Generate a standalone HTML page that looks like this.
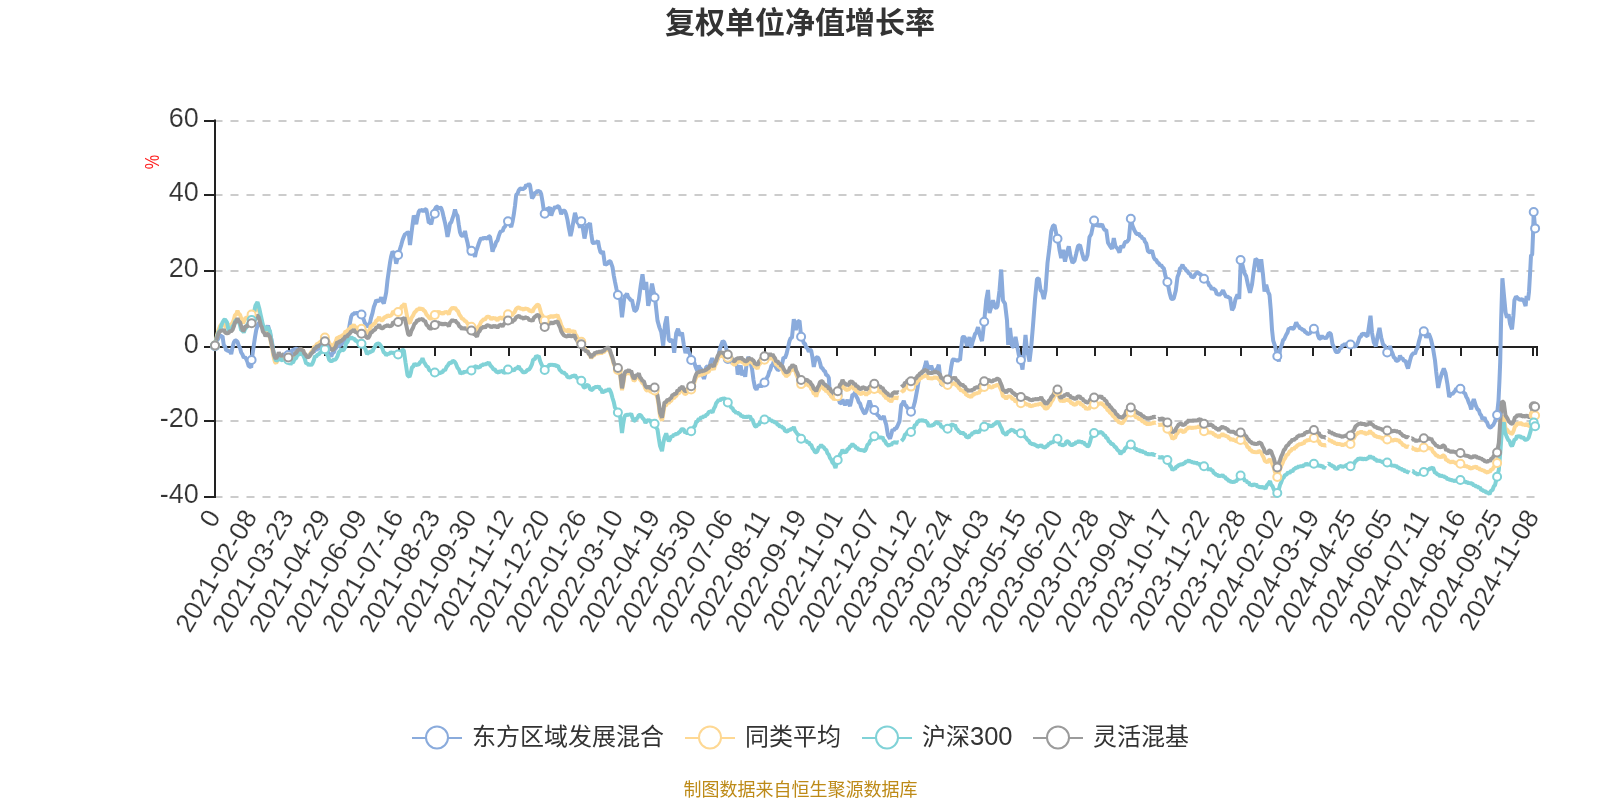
<!DOCTYPE html>
<html lang="zh-CN">
<head>
<meta charset="utf-8">
<title>复权单位净值增长率</title>
<style>
html,body{margin:0;padding:0;background:#fff;}
body{width:1600px;height:800px;overflow:hidden;}
svg{display:block;will-change:transform;}
text{font-family:"Liberation Sans", "Noto Sans CJK SC", sans-serif;fill:#333;}
.title{font-size:30px;font-weight:bold;text-anchor:middle;}
.grid line{stroke:#ccc;stroke-width:2;stroke-dasharray:8 8;}
.axis line{stroke:#222;stroke-width:2;}
.ylab text{font-size:27px;text-anchor:end;stroke:#fff;stroke-width:.15;}
.xlab text{font-size:26.5px;text-anchor:end;dominant-baseline:central;stroke:#fff;stroke-width:.15;}
.yname{font-size:20px;fill:#f22;text-anchor:middle;}
.series polyline{fill:none;stroke-width:4;stroke-linejoin:bevel;}
.series circle{fill:#fff;stroke-width:2;}
.legend text{font-size:24px;}
.legend line,.legend circle{stroke-width:2;fill:#fff;}
.footer{font-size:18px;fill:#bd8a17;text-anchor:middle;}
.s-blue{stroke:#8aabdc}.s-yellow{stroke:#fed893}.s-cyan{stroke:#80d2d7}.s-grey{stroke:#9b9b9b}
</style>
</head>
<body>
<svg width="1600" height="800" viewBox="0 0 1600 800">
<text class="title" x="800" y="33">复权单位净值增长率</text>
<g class="grid">
<line x1="214.5" y1="121" x2="1537" y2="121"/>
<line x1="214.5" y1="195" x2="1537" y2="195"/>
<line x1="214.5" y1="271" x2="1537" y2="271"/>
<line x1="214.5" y1="421" x2="1537" y2="421"/>
<line x1="214.5" y1="497" x2="1537" y2="497"/>
</g>
<g class="axis axis-y">
<line x1="215" y1="119.5" x2="215" y2="498"/>
<line x1="204" y1="121" x2="215" y2="121"/>
<line x1="204" y1="195" x2="215" y2="195"/>
<line x1="204" y1="271" x2="215" y2="271"/>
<line x1="204" y1="347" x2="215" y2="347"/>
<line x1="204" y1="421" x2="215" y2="421"/>
<line x1="204" y1="497" x2="215" y2="497"/>
</g>
<g class="ylab">
<text x="198.8" y="126.6">60</text>
<text x="198.8" y="200.6">40</text>
<text x="198.8" y="276.6">20</text>
<text x="198.8" y="352.6">0</text>
<text x="198.8" y="426.6">-20</text>
<text x="198.8" y="502.6">-40</text>
</g>
<text class="yname" transform="translate(159,162) rotate(-90)" textLength="14.4" lengthAdjust="spacingAndGlyphs">%</text>
<g class="axis axis-x">
<line x1="215" y1="347" x2="1538" y2="347"/>
<line x1="215" y1="347" x2="215" y2="356"/>
<line x1="251" y1="347" x2="251" y2="356"/>
<line x1="289" y1="347" x2="289" y2="356"/>
<line x1="325" y1="347" x2="325" y2="356"/>
<line x1="361" y1="347" x2="361" y2="356"/>
<line x1="399" y1="347" x2="399" y2="356"/>
<line x1="435" y1="347" x2="435" y2="356"/>
<line x1="471" y1="347" x2="471" y2="356"/>
<line x1="509" y1="347" x2="509" y2="356"/>
<line x1="545" y1="347" x2="545" y2="356"/>
<line x1="581" y1="347" x2="581" y2="356"/>
<line x1="617" y1="347" x2="617" y2="356"/>
<line x1="655" y1="347" x2="655" y2="356"/>
<line x1="691" y1="347" x2="691" y2="356"/>
<line x1="727" y1="347" x2="727" y2="356"/>
<line x1="765" y1="347" x2="765" y2="356"/>
<line x1="801" y1="347" x2="801" y2="356"/>
<line x1="837" y1="347" x2="837" y2="356"/>
<line x1="875" y1="347" x2="875" y2="356"/>
<line x1="911" y1="347" x2="911" y2="356"/>
<line x1="947" y1="347" x2="947" y2="356"/>
<line x1="985" y1="347" x2="985" y2="356"/>
<line x1="1021" y1="347" x2="1021" y2="356"/>
<line x1="1057" y1="347" x2="1057" y2="356"/>
<line x1="1095" y1="347" x2="1095" y2="356"/>
<line x1="1131" y1="347" x2="1131" y2="356"/>
<line x1="1167" y1="347" x2="1167" y2="356"/>
<line x1="1205" y1="347" x2="1205" y2="356"/>
<line x1="1241" y1="347" x2="1241" y2="356"/>
<line x1="1277" y1="347" x2="1277" y2="356"/>
<line x1="1313" y1="347" x2="1313" y2="356"/>
<line x1="1351" y1="347" x2="1351" y2="356"/>
<line x1="1387" y1="347" x2="1387" y2="356"/>
<line x1="1423" y1="347" x2="1423" y2="356"/>
<line x1="1461" y1="347" x2="1461" y2="356"/>
<line x1="1497" y1="347" x2="1497" y2="356"/>
<line x1="1533" y1="347" x2="1533" y2="356"/>
<line x1="1537" y1="347" x2="1537" y2="356"/>
</g>
<g class="xlab">
<text transform="translate(213.5,512) rotate(-60)">0</text>
<text transform="translate(250.1,512) rotate(-60)">2021-02-08</text>
<text transform="translate(286.8,512) rotate(-60)">2021-03-23</text>
<text transform="translate(323.4,512) rotate(-60)">2021-04-29</text>
<text transform="translate(360.0,512) rotate(-60)">2021-06-09</text>
<text transform="translate(396.6,512) rotate(-60)">2021-07-16</text>
<text transform="translate(433.3,512) rotate(-60)">2021-08-23</text>
<text transform="translate(469.9,512) rotate(-60)">2021-09-30</text>
<text transform="translate(506.5,512) rotate(-60)">2021-11-12</text>
<text transform="translate(543.2,512) rotate(-60)">2021-12-20</text>
<text transform="translate(579.8,512) rotate(-60)">2022-01-26</text>
<text transform="translate(616.4,512) rotate(-60)">2022-03-10</text>
<text transform="translate(653.1,512) rotate(-60)">2022-04-19</text>
<text transform="translate(689.7,512) rotate(-60)">2022-05-30</text>
<text transform="translate(726.3,512) rotate(-60)">2022-07-06</text>
<text transform="translate(763.0,512) rotate(-60)">2022-08-11</text>
<text transform="translate(799.6,512) rotate(-60)">2022-09-19</text>
<text transform="translate(836.2,512) rotate(-60)">2022-11-01</text>
<text transform="translate(872.8,512) rotate(-60)">2022-12-07</text>
<text transform="translate(909.5,512) rotate(-60)">2023-01-12</text>
<text transform="translate(946.1,512) rotate(-60)">2023-02-24</text>
<text transform="translate(982.7,512) rotate(-60)">2023-04-03</text>
<text transform="translate(1019.4,512) rotate(-60)">2023-05-15</text>
<text transform="translate(1056.0,512) rotate(-60)">2023-06-20</text>
<text transform="translate(1092.6,512) rotate(-60)">2023-07-28</text>
<text transform="translate(1129.2,512) rotate(-60)">2023-09-04</text>
<text transform="translate(1165.9,512) rotate(-60)">2023-10-17</text>
<text transform="translate(1202.5,512) rotate(-60)">2023-11-22</text>
<text transform="translate(1239.1,512) rotate(-60)">2023-12-28</text>
<text transform="translate(1275.8,512) rotate(-60)">2024-02-02</text>
<text transform="translate(1312.4,512) rotate(-60)">2024-03-19</text>
<text transform="translate(1349.0,512) rotate(-60)">2024-04-25</text>
<text transform="translate(1385.7,512) rotate(-60)">2024-06-05</text>
<text transform="translate(1422.3,512) rotate(-60)">2024-07-11</text>
<text transform="translate(1458.9,512) rotate(-60)">2024-08-16</text>
<text transform="translate(1495.6,512) rotate(-60)">2024-09-25</text>
<text transform="translate(1532.2,512) rotate(-60)">2024-11-08</text>
</g>
<g class="series">
<g class="s-blue">
<polyline points="215.0,346.2 217.0,339.9 218.2,338.9 219.5,335.0 221.0,336.5 222.5,335.9 223.8,345.3 225.0,346.5 226.2,350.5 227.5,350.1 228.8,351.3 230.0,351.3 231.2,354.0 232.5,347.5 233.8,342.5 235.0,340.4 236.2,340.5 237.5,341.9 238.8,345.6 240.0,348.0 241.2,352.5 242.5,354.5 243.8,357.9 245.0,356.9 246.2,359.0 247.5,362.1 248.8,366.5 250.0,366.4 251.2,367.6 251.8,359.7 253.8,345.3 255.0,337.1 256.2,330.2 257.5,325.9 258.8,322.8 260.0,323.1 261.2,325.5 262.5,325.7 264.0,328.4 265.5,328.3 266.8,328.1 268.0,325.6 270.0,333.1 272.0,342.4 273.8,355.2 275.0,355.2 276.2,358.0 277.5,355.8 278.8,357.5 280.0,355.7 281.2,357.5 282.5,355.9 283.8,357.8 285.0,356.4 286.2,357.5 287.5,354.8 288.8,355.4 290.0,352.8 291.2,352.3 292.5,349.5 293.8,350.4 295.0,348.6 296.2,349.1 297.5,348.5 298.8,351.4 300.0,351.0 301.2,353.3 302.5,352.9 303.8,355.5 305.0,354.5 306.2,356.6 307.5,355.9 308.8,355.9 310.0,354.1 311.2,354.2 312.5,351.2 313.8,352.2 315.0,349.7 316.2,350.2 317.5,348.3 318.8,349.4 320.0,346.4 321.2,347.2 322.5,344.4 323.8,347.3 325.0,347.4 326.2,350.6 327.5,350.9 328.8,354.0 330.0,354.3 331.2,356.6 332.5,353.1 333.8,352.5 335.0,348.9 336.2,348.0 337.5,345.5 338.8,346.9 340.0,344.5 341.2,345.1 342.5,342.4 343.8,342.8 345.0,339.5 346.2,338.1 347.5,333.2 348.8,330.1 350.0,322.6 351.2,316.6 352.5,314.2 353.8,314.0 355.0,312.4 356.2,313.9 357.5,312.1 358.9,314.0 360.3,313.4 361.8,314.6 363.8,319.9 365.0,323.4 366.2,324.4 367.5,326.8 368.8,325.7 370.0,322.6 371.2,317.3 372.5,313.2 373.8,307.1 375.0,304.1 376.2,300.0 377.5,301.1 378.8,300.8 380.0,300.0 381.2,297.4 382.5,301.2 383.8,303.5 385.0,298.4 386.2,292.4 387.5,280.3 388.8,270.9 390.0,262.7 391.2,256.2 392.5,251.5 393.8,253.0 395.0,256.6 396.2,263.7 398.2,255.3 399.8,249.5 401.2,245.1 402.5,240.3 403.8,236.8 405.0,234.1 406.2,233.9 407.5,232.2 408.8,233.0 410.0,245.0 411.2,235.3 412.5,224.9 413.8,215.5 415.0,219.0 416.2,224.2 417.5,216.9 418.8,211.6 420.0,210.0 421.2,210.6 422.5,209.5 423.8,211.6 425.0,209.4 426.2,209.2 427.5,215.2 428.8,222.9 430.0,222.4 431.2,224.2 432.5,218.4 433.8,213.9 435.0,209.2 436.2,206.8 437.5,206.8 438.8,209.3 440.0,207.4 441.2,208.1 442.5,211.8 443.8,217.8 445.0,222.7 446.2,228.8 447.5,236.9 448.8,230.9 450.0,223.2 451.2,222.5 452.5,218.4 453.8,214.7 455.0,209.4 456.2,213.9 457.5,215.8 458.8,224.9 460.0,232.3 461.2,235.1 462.5,236.1 463.8,234.8 465.0,231.0 466.2,237.2 467.5,242.4 468.8,249.4 470.0,254.8 471.8,251.1 473.4,252.8 475.0,256.8 476.2,251.1 477.5,247.5 478.8,243.4 480.0,240.2 481.2,237.9 482.5,239.4 483.8,237.3 485.0,238.6 486.2,237.3 487.5,239.3 488.8,236.3 490.0,236.5 491.2,243.0 492.5,251.7 493.8,247.6 495.0,245.6 496.2,241.8 497.5,240.5 498.8,235.9 500.0,232.6 501.2,230.7 502.5,231.4 503.8,227.7 505.0,226.6 506.2,223.4 507.5,223.7 508.8,221.0 510.0,224.8 511.2,226.9 512.5,221.8 513.8,214.4 515.0,205.7 516.2,194.9 517.5,193.8 518.8,190.3 520.0,188.8 521.2,188.2 522.5,189.9 523.8,188.2 525.0,188.0 526.2,184.8 527.5,186.0 528.8,183.9 530.0,185.2 532.0,198.4 533.5,196.3 535.0,192.4 536.2,192.8 537.5,190.5 538.8,191.6 540.0,191.3 541.2,194.0 542.5,201.5 543.8,210.5 545.0,213.2 546.2,211.7 547.5,208.3 548.8,208.7 550.0,207.4 551.2,215.6 552.5,211.6 553.8,208.9 555.0,206.8 556.2,207.8 557.5,206.3 558.8,206.4 560.0,209.6 561.2,214.2 562.5,211.3 563.8,210.6 565.0,211.1 566.2,214.4 567.5,219.9 568.8,227.7 570.5,236.1 571.8,230.5 573.0,223.7 575.0,212.9 576.2,217.2 577.5,222.5 578.8,223.7 580.0,227.7 582.0,220.9 583.2,230.5 584.5,238.5 585.8,232.2 587.0,224.4 588.5,225.6 590.0,223.1 591.2,233.5 592.5,242.4 593.8,243.5 595.0,241.9 596.5,242.8 598.0,240.8 599.2,247.5 600.5,252.3 601.8,252.8 603.0,251.1 605.0,265.2 606.2,263.9 607.5,263.9 609.0,261.2 610.5,261.5 612.5,267.1 613.8,275.6 615.0,281.9 616.5,289.2 618.0,294.8 620.0,297.7 622.0,317.3 623.2,307.6 624.5,295.7 625.8,295.7 627.0,293.5 628.2,297.2 629.5,298.4 630.8,300.3 632.0,299.8 633.2,305.9 634.5,311.1 635.8,310.5 637.0,308.4 638.8,300.0 640.8,285.0 642.5,274.2 644.5,289.8 646.2,281.8 648.2,305.9 650.0,298.1 652.0,283.6 653.5,291.2 655.0,297.0 655.8,305.1 657.5,320.6 659.5,327.6 661.2,332.0 663.2,345.6 665.0,324.5 666.8,316.5 668.8,339.9 670.5,341.6 672.5,339.4 674.2,352.7 676.2,333.2 678.0,328.8 680.0,335.7 682.0,332.5 683.8,344.8 685.5,353.1 687.5,347.5 688.6,351.7 689.7,353.5 691.7,360.5 693.0,360.1 694.2,362.4 695.7,367.2 697.2,370.6 698.7,365.5 699.9,368.5 701.0,368.8 702.5,375.0 704.0,378.9 705.2,374.0 706.2,367.1 707.7,366.4 709.2,368.4 710.7,361.8 712.2,358.2 713.7,362.5 715.0,360.8 716.2,361.2 717.5,359.6 719.0,352.8 720.1,348.2 721.2,345.0 722.7,341.0 724.2,342.1 725.7,346.4 727.2,352.7 728.0,358.4 729.5,361.0 731.0,361.2 732.2,363.2 733.5,362.3 734.7,363.8 735.9,364.0 737.0,366.3 737.7,374.6 739.2,369.3 740.7,365.6 742.2,375.5 743.7,370.3 745.2,376.8 746.7,362.7 748.2,357.1 749.4,358.8 750.5,362.6 752.0,368.4 753.5,380.1 755.0,387.6 756.5,389.7 757.6,386.9 758.7,385.5 759.9,385.0 761.0,386.8 762.1,385.3 763.2,386.0 764.7,381.9 765.9,381.0 767.0,377.5 768.1,375.7 769.2,371.8 770.4,369.6 771.5,365.5 772.6,365.1 773.7,361.7 775.2,365.8 776.7,368.4 777.9,370.3 779.0,369.6 780.5,367.7 782.0,364.4 783.5,357.4 785.0,358.0 786.5,354.0 788.0,347.6 789.5,341.0 790.6,338.3 791.7,337.8 792.0,337.4 793.8,319.2 795.8,330.0 797.5,321.9 799.5,320.7 801.2,337.2 802.5,338.9 803.8,343.1 805.0,343.7 806.2,347.6 807.5,348.3 808.8,351.8 810.0,349.6 811.2,350.5 812.5,357.6 813.8,366.9 815.0,361.1 816.2,357.7 817.5,357.0 818.8,359.0 820.0,362.8 821.2,367.7 822.5,368.2 823.8,370.6 825.0,371.2 826.2,375.1 827.5,375.3 828.8,377.8 830.0,394.9 831.2,395.1 832.5,393.6 833.8,396.7 835.0,397.5 836.2,396.9 837.5,394.7 838.8,399.7 840.0,403.3 841.2,402.8 842.5,399.5 843.8,403.1 845.0,404.8 846.2,403.4 847.5,399.8 848.8,403.7 850.0,406.1 851.2,401.2 852.5,394.5 853.8,394.9 855.0,391.9 856.2,396.2 857.5,398.4 858.8,402.4 860.0,403.3 861.2,407.4 862.5,409.8 863.8,412.6 865.0,413.7 866.2,411.3 867.5,407.4 869.5,400.5 871.2,405.9 872.5,408.8 873.8,407.7 875.0,410.6 876.2,412.4 877.5,415.3 878.8,415.9 880.0,418.2 881.2,418.4 882.5,418.3 883.8,415.9 885.0,420.9 886.2,424.7 888.0,435.3 890.0,438.6 891.2,434.9 892.5,429.5 893.8,430.4 895.0,428.4 896.2,428.5 897.5,426.0 899.5,421.4 901.2,405.0 902.5,403.8 903.8,400.9 905.0,405.0 906.2,405.7 907.5,408.4 908.8,408.1 910.0,411.1 911.2,411.2 912.5,409.8 913.8,405.8 915.0,401.4 916.2,394.8 917.5,387.9 918.8,379.6 920.0,377.4 921.2,373.5 922.5,372.3 923.8,369.7 925.0,366.1 926.2,361.0 927.5,365.7 928.8,368.4 930.0,368.6 931.2,365.7 932.5,369.8 933.8,370.9 935.0,371.7 936.2,369.6 937.5,368.5 938.8,364.6 940.0,375.5 941.2,384.6 942.5,384.7 943.8,381.9 945.0,384.2 946.2,383.2 947.5,381.9 948.8,376.8 950.0,375.4 951.2,367.0 952.5,360.2 953.8,358.9 955.0,360.6 956.2,359.7 957.5,361.3 958.8,359.5 960.0,360.3 961.2,348.2 962.5,337.5 963.8,336.6 965.0,338.0 967.0,346.0 968.2,342.3 969.5,337.1 971.2,347.5 972.5,342.0 973.8,338.1 975.0,334.0 976.2,332.8 978.0,327.1 980.0,335.4 982.0,341.1 983.1,331.9 984.2,321.2 986.2,300.2 988.0,290.0 989.5,313.0 991.2,307.2 993.0,300.2 995.0,307.2 996.2,308.0 997.5,306.1 999.5,290.4 1001.2,269.5 1003.0,300.5 1005.0,303.6 1007.0,320.4 1008.2,344.8 1010.0,327.9 1012.0,346.1 1013.8,346.8 1015.5,336.9 1017.0,345.2 1018.8,354.9 1020.8,360.6 1022.5,369.5 1023.8,355.5 1025.5,335.0 1027.0,350.6 1028.2,355.0 1029.5,361.5 1031.2,347.2 1033.0,325.5 1035.0,299.5 1037.0,278.9 1038.8,278.3 1040.5,290.1 1042.0,291.9 1043.8,299.0 1045.5,290.7 1047.5,263.0 1049.5,247.1 1051.2,231.4 1053.0,225.9 1054.5,225.1 1056.2,233.7 1058.0,239.2 1059.5,249.8 1061.2,258.0 1063.0,249.8 1065.0,261.7 1067.0,252.0 1068.8,246.4 1070.5,256.2 1072.5,262.8 1074.5,260.9 1076.2,253.8 1078.0,246.1 1080.0,245.0 1081.8,252.1 1083.8,259.3 1085.8,259.9 1087.5,255.0 1089.5,237.0 1091.2,234.3 1093.0,225.6 1094.5,220.9 1096.2,226.0 1098.0,224.3 1100.0,226.2 1102.0,224.2 1103.8,228.7 1105.0,230.2 1106.2,229.7 1108.0,242.7 1110.0,246.1 1112.0,248.9 1113.8,238.2 1115.5,246.6 1117.5,248.4 1119.5,252.6 1121.2,245.8 1123.0,247.7 1125.0,242.1 1127.0,241.8 1128.8,239.4 1130.8,218.8 1132.5,225.7 1134.5,230.6 1136.2,233.5 1137.5,234.5 1138.8,233.4 1140.0,236.2 1141.2,236.0 1142.5,238.7 1143.8,238.3 1145.0,241.8 1146.2,243.2 1148.0,251.3 1150.0,252.4 1152.0,250.4 1153.8,257.5 1155.0,259.5 1156.2,259.9 1157.5,262.7 1158.8,263.2 1160.0,265.6 1161.2,265.0 1162.5,267.4 1163.8,268.2 1165.5,276.3 1167.5,281.8 1169.5,292.6 1171.2,298.7 1172.5,299.2 1173.8,298.3 1175.8,290.5 1177.5,277.1 1178.8,273.8 1180.0,268.3 1181.2,267.7 1182.5,264.6 1183.8,268.1 1185.0,268.3 1186.2,270.7 1187.5,271.2 1188.8,273.7 1190.0,273.4 1191.2,276.4 1192.5,277.1 1193.8,277.2 1195.0,274.7 1197.0,272.5 1198.2,272.4 1199.5,274.0 1200.8,274.4 1202.0,276.8 1203.1,276.7 1204.2,279.2 1205.5,278.9 1206.8,281.7 1208.0,282.1 1209.2,285.5 1210.5,286.2 1211.8,289.4 1213.0,288.2 1214.2,289.3 1215.5,290.1 1216.8,294.3 1218.0,293.9 1219.2,295.1 1221.2,293.2 1223.0,290.3 1225.0,294.8 1226.2,296.9 1227.5,296.2 1228.8,297.8 1230.0,297.2 1232.0,310.1 1233.8,307.2 1235.5,299.2 1237.5,294.4 1239.2,298.8 1240.8,259.7 1242.5,265.1 1244.5,273.2 1246.2,276.3 1248.0,285.0 1250.0,292.7 1252.0,284.5 1253.8,270.2 1255.5,258.7 1257.5,260.5 1259.5,272.0 1261.2,259.3 1263.0,274.8 1264.5,291.5 1266.2,284.8 1268.0,291.6 1269.5,294.8 1270.8,310.2 1272.0,329.5 1273.2,340.6 1275.0,345.9 1276.2,351.6 1277.5,355.8 1278.8,361.5 1280.0,349.4 1282.0,344.2 1283.1,340.1 1284.2,339.2 1286.2,334.7 1287.5,332.6 1288.8,328.2 1290.0,328.8 1291.2,327.4 1292.5,328.9 1293.8,328.4 1295.0,325.9 1296.2,322.3 1297.5,325.3 1298.8,326.2 1300.0,328.6 1301.2,328.3 1302.5,330.1 1303.8,329.8 1305.0,332.0 1306.2,332.3 1307.5,334.2 1308.8,333.4 1310.0,333.4 1311.2,331.2 1312.8,331.2 1314.2,328.5 1315.6,330.7 1317.0,331.2 1318.1,335.8 1319.2,338.4 1320.5,338.7 1321.8,335.6 1323.1,338.1 1324.5,337.0 1325.8,338.7 1327.0,336.9 1328.8,333.0 1330.8,333.7 1332.5,344.1 1334.5,348.4 1335.8,351.9 1337.0,352.0 1338.5,351.7 1340.0,348.3 1341.2,348.3 1342.5,345.0 1343.8,345.4 1345.0,343.8 1346.2,345.0 1347.5,343.1 1349.1,345.0 1350.8,344.4 1352.2,346.0 1353.8,345.8 1355.4,346.6 1357.0,344.4 1358.2,341.6 1359.5,337.2 1360.8,336.7 1362.0,333.7 1363.5,334.3 1365.0,333.4 1366.2,335.7 1367.5,336.2 1369.5,322.7 1370.5,315.8 1372.0,332.8 1373.8,342.4 1375.8,346.3 1377.5,336.9 1379.5,327.9 1381.2,337.4 1383.0,344.3 1385.0,346.2 1386.2,349.8 1387.5,351.9 1388.8,350.0 1390.0,346.1 1391.2,350.7 1392.5,353.4 1393.8,357.4 1395.0,358.2 1396.2,360.8 1397.5,360.8 1398.8,359.7 1400.0,355.6 1401.2,358.6 1402.5,358.3 1404.0,361.1 1405.5,360.6 1406.8,365.4 1408.0,368.6 1410.0,360.5 1411.2,356.2 1412.5,354.1 1413.8,352.9 1415.0,354.0 1416.2,349.9 1417.5,348.0 1418.8,341.9 1420.0,337.5 1422.0,330.7 1423.1,332.1 1424.2,331.1 1426.2,337.7 1427.5,334.6 1428.8,333.8 1430.0,336.5 1431.2,340.2 1433.0,348.2 1435.0,360.5 1436.2,371.9 1438.2,387.9 1440.0,379.6 1442.0,372.9 1443.8,368.4 1445.5,372.9 1447.5,384.5 1449.2,396.9 1451.2,393.5 1452.5,394.1 1453.8,392.3 1455.0,391.3 1456.2,388.4 1457.5,389.1 1458.8,387.1 1460.8,389.4 1462.2,390.0 1463.8,392.9 1465.0,393.1 1466.2,396.7 1467.5,398.8 1468.8,402.7 1470.0,405.1 1471.2,409.4 1472.5,403.0 1473.8,399.2 1475.8,405.7 1477.5,409.4 1478.8,410.1 1480.0,414.0 1481.2,415.4 1482.5,419.3 1484.5,417.3 1485.8,421.1 1487.0,422.2 1488.2,425.7 1489.5,427.2 1490.8,427.4 1492.0,426.0 1493.2,425.2 1494.5,422.5 1495.8,419.1 1497.0,414.8 1498.5,400.6 1499.5,379.6 1500.2,362.2 1501.0,324.4 1502.4,278.2 1504.0,295.7 1505.6,312.5 1507.0,317.6 1508.6,314.3 1510.0,323.5 1512.0,329.3 1513.4,315.5 1514.4,300.3 1516.0,296.4 1518.0,298.5 1520.0,299.9 1522.0,299.1 1524.0,301.4 1525.6,306.1 1526.6,296.0 1528.0,300.2 1529.0,291.7 1530.0,274.6 1531.0,255.7 1532.2,254.5 1533.0,235.5 1533.7,212.1 1535.1,228.4"/>
</g>
<g class="s-yellow">
<polyline points="215.0,345.5 216.2,338.5 217.5,333.5 218.8,329.2 220.0,326.1 221.2,324.4 222.5,325.9 223.8,323.9 225.4,326.7 227.0,327.3 228.5,327.1 230.0,324.4 231.2,324.5 232.5,322.9 233.8,319.7 235.0,314.9 236.2,314.5 237.5,310.7 238.8,313.9 240.0,314.5 241.5,319.4 243.0,323.2 244.2,321.1 245.5,317.8 247.1,317.9 248.8,316.3 250.2,316.6 251.8,314.2 253.4,313.7 255.0,311.0 257.0,306.0 258.8,309.5 260.8,318.7 261.9,322.1 263.0,327.1 264.2,329.3 265.5,333.4 266.8,331.9 268.0,333.3 270.0,337.8 272.0,348.0 274.0,358.7 275.1,362.3 276.2,363.2 277.5,360.7 278.8,355.9 280.0,358.6 281.2,359.1 282.5,358.9 283.8,356.1 285.0,358.1 286.2,357.9 287.5,359.6 288.8,358.4 290.2,358.5 291.8,355.8 293.4,356.4 295.0,354.0 296.5,353.3 298.0,350.2 299.2,351.0 300.5,348.7 301.8,350.4 303.0,350.0 304.2,353.2 305.5,354.5 306.8,356.5 308.0,356.4 309.6,355.4 311.2,352.0 312.8,350.5 314.2,346.4 315.6,346.5 317.0,343.7 318.5,343.9 320.0,341.8 321.2,341.6 322.5,339.0 323.8,338.9 325.0,337.2 326.6,340.4 328.2,340.7 329.8,344.0 331.2,345.4 332.8,346.2 334.2,344.0 335.6,341.9 337.0,337.7 338.5,337.9 340.0,336.4 341.2,336.7 342.5,335.2 344.0,334.5 345.5,331.4 346.9,331.6 348.2,329.6 349.8,328.8 351.2,326.1 352.5,326.7 353.8,324.7 355.2,327.2 356.8,327.5 358.1,328.8 359.5,328.6 360.8,329.7 362.0,328.7 363.5,330.4 365.0,329.7 366.5,332.4 368.0,333.2 369.4,330.5 370.8,326.2 372.2,325.8 373.8,323.8 375.0,323.3 376.2,320.7 377.8,319.7 379.2,317.0 380.5,319.7 381.8,320.6 383.1,319.7 384.5,317.0 386.0,317.3 387.5,315.2 389.0,316.2 390.5,315.7 391.9,314.5 393.2,311.2 394.5,312.3 395.8,310.3 397.0,312.4 398.2,311.5 400.0,310.2 401.8,306.1 403.1,305.7 404.5,303.5 406.2,311.9 408.2,322.1 410.0,322.8 411.5,317.9 413.0,315.7 414.4,312.5 415.8,311.4 417.2,309.4 418.8,309.3 420.0,307.9 421.2,309.5 422.5,308.4 423.8,310.7 425.0,311.2 426.5,314.6 428.0,316.2 429.2,318.0 430.5,318.7 431.8,318.0 433.2,315.8 434.5,315.4 436.0,312.7 437.5,312.6 438.8,311.3 440.0,313.5 441.5,312.6 443.0,313.9 444.4,312.2 445.8,312.3 447.2,312.0 448.8,314.4 450.0,310.4 451.2,308.9 452.5,307.6 453.8,308.7 455.0,307.5 456.5,310.0 458.0,311.3 459.4,314.8 460.8,316.6 462.0,318.8 463.2,318.9 464.5,320.7 466.2,321.6 468.0,324.1 469.2,324.1 470.5,326.6 471.8,326.6 473.4,329.4 475.0,330.1 477.0,331.4 478.2,326.8 479.5,325.5 481.0,321.9 482.5,320.6 483.8,319.1 485.0,319.6 486.5,317.2 488.0,316.6 489.6,317.2 491.2,319.2 492.9,317.7 494.5,318.5 496.0,318.3 497.5,320.5 498.8,317.9 500.0,317.9 501.2,317.3 502.5,319.5 504.0,317.1 505.5,316.3 507.1,314.6 508.8,314.4 510.4,313.7 512.0,315.7 513.2,313.3 514.5,312.4 516.0,309.1 517.5,307.8 519.0,307.5 520.5,308.9 522.1,308.6 523.8,309.8 525.0,308.2 526.2,308.8 527.9,308.9 529.5,311.0 531.0,310.5 532.5,312.0 534.0,308.3 535.5,306.7 537.1,304.7 538.8,305.2 540.0,309.1 541.2,314.0 542.5,315.6 543.8,319.4 545.0,320.1 546.5,320.1 548.0,316.9 549.6,317.2 551.2,315.7 552.9,317.2 554.5,315.8 556.0,316.4 557.5,314.8 558.8,318.7 560.0,321.0 561.2,325.1 562.5,327.7 564.0,330.2 565.5,330.2 567.1,331.4 568.8,329.3 570.2,331.8 571.8,331.4 573.0,331.9 574.2,330.6 575.5,334.3 576.8,336.2 578.0,338.9 579.2,338.9 580.0,342.5 582.0,341.3 583.8,348.3 585.0,348.4 586.2,351.1 587.5,350.7 588.8,354.0 590.0,355.3 591.2,358.4 592.5,355.6 593.8,356.4 595.0,353.3 596.2,354.1 597.5,352.9 598.8,353.7 600.0,352.2 601.2,353.7 602.5,352.1 603.8,352.4 605.0,350.3 606.2,350.4 607.5,348.3 608.8,349.4 610.0,351.8 611.2,355.6 612.5,359.2 613.8,364.3 615.0,366.7 616.2,370.8 618.0,369.5 620.0,373.5 622.0,390.2 623.2,384.0 624.5,375.6 625.0,374.8 626.2,373.1 627.5,373.5 628.8,371.9 630.0,374.1 631.2,373.5 632.5,377.9 633.8,380.9 635.0,380.1 636.2,377.1 637.5,378.1 638.8,376.0 640.0,379.7 641.2,380.9 642.5,383.4 643.8,383.6 645.0,387.8 646.2,389.9 647.5,390.9 648.8,389.1 650.0,391.4 651.2,391.5 652.5,392.3 653.8,389.7 655.0,390.9 656.2,394.0 657.5,398.3 658.8,406.2 660.0,416.1 662.0,420.7 663.2,413.9 664.5,405.5 666.0,405.5 667.5,402.6 668.8,403.3 670.0,401.3 671.2,401.1 672.5,398.0 673.8,398.5 675.0,396.4 676.2,396.2 677.5,393.3 678.8,393.5 680.0,391.3 681.2,391.7 682.5,389.3 683.8,392.8 685.0,394.1 686.2,393.7 687.5,391.5 688.8,391.8 690.0,389.6 691.2,390.0 692.5,386.4 693.8,384.4 695.0,380.2 696.2,377.4 697.5,375.2 698.8,376.3 700.0,374.1 701.2,375.4 702.5,373.8 703.8,374.6 705.0,372.8 706.2,373.2 707.5,371.9 708.8,371.7 710.0,368.9 711.2,368.7 712.5,367.8 713.8,369.7 715.0,365.4 716.2,363.7 717.5,359.0 718.8,357.1 720.0,355.8 721.2,356.0 722.5,355.4 723.8,357.2 725.0,357.0 726.5,358.3 728.0,357.2 729.6,360.0 731.2,360.5 732.5,363.4 733.8,364.3 735.0,364.8 736.2,362.2 737.5,362.5 738.8,360.9 740.0,362.1 741.2,360.3 742.5,362.6 743.8,362.8 745.0,364.6 746.2,364.2 747.5,363.8 748.8,360.5 750.0,362.4 751.2,361.5 752.5,363.4 753.8,364.3 755.0,367.4 756.2,366.9 757.5,368.9 758.8,364.8 760.0,363.8 761.2,361.5 762.5,361.0 764.5,359.4 766.0,359.6 767.5,358.3 768.8,359.0 770.0,357.1 771.2,359.1 772.5,358.1 773.8,359.9 775.0,361.5 776.2,364.7 777.5,364.8 778.8,366.9 780.0,366.9 781.2,369.1 782.5,369.2 783.8,373.4 785.0,374.5 786.2,376.3 787.5,375.4 788.8,374.2 790.0,370.9 791.2,370.4 792.5,368.5 793.8,370.3 795.0,369.8 796.2,374.2 797.5,377.1 798.8,380.4 800.0,380.9 801.2,384.4 802.5,384.0 803.8,385.9 805.0,384.2 806.2,384.8 807.5,383.9 808.8,386.0 810.0,386.0 811.2,388.9 812.5,389.9 813.8,393.9 815.0,393.7 816.2,396.6 817.5,392.0 818.8,390.5 820.0,387.4 821.2,386.6 822.5,386.6 823.8,389.0 825.0,389.3 826.2,391.4 827.5,390.9 828.8,393.6 830.0,393.5 831.2,396.8 832.5,397.4 833.8,399.3 835.0,398.7 836.2,398.0 837.5,396.1 838.8,393.9 840.0,389.5 841.2,388.7 842.5,384.6 843.8,387.7 845.0,388.5 846.2,390.1 847.5,389.6 848.8,389.6 850.0,387.0 851.2,386.7 852.5,387.1 853.8,389.1 855.0,388.6 856.2,391.0 857.5,391.3 858.8,393.2 860.0,393.7 861.2,394.2 862.5,392.5 863.8,392.9 865.0,393.3 866.2,395.3 867.5,393.0 868.8,393.4 870.0,391.2 871.2,391.2 872.5,388.9 873.8,389.5 875.0,388.4 876.2,390.5 877.5,389.6 878.8,391.5 880.0,391.1 881.2,393.4 882.5,392.5 883.8,395.6 885.0,396.1 886.2,398.5 887.5,397.8 888.8,400.5 890.0,400.1 891.2,401.9 892.5,399.0 893.8,398.3 895.0,396.9 896.2,398.7 897.5,397.5 898.6,397.8"/>
<polyline points="901.4,392.4 902.5,391.0 903.8,390.7 905.0,387.5 906.2,387.7 907.5,385.3 908.8,385.3 910.0,385.4 911.2,387.2 912.5,385.2 913.8,386.1 915.0,383.7 916.2,384.0 917.5,381.1 918.8,380.5 920.0,378.1 921.2,378.3 922.5,376.6 923.8,376.9 925.0,375.2 926.2,375.5 927.5,376.3 928.8,379.2 930.0,377.5 931.2,379.2 932.5,377.9 933.8,378.4 935.0,376.5 936.2,378.3 937.5,377.5 938.8,379.3 940.0,380.0 941.2,383.0 942.5,384.1 943.8,385.5 945.0,383.5 946.2,385.6 947.5,384.5 948.8,385.8 950.0,383.9 951.2,384.5 952.5,383.3 953.8,383.9 955.0,382.9 956.2,385.2 957.5,385.9 958.8,388.1 960.0,389.0 961.2,391.0 962.5,389.9 963.8,392.3 965.0,392.1 966.2,395.1 967.5,395.0 968.8,396.6 970.0,396.0 971.2,397.4 972.5,394.7 973.8,395.0 975.0,393.0 976.2,393.9 977.5,392.5 978.8,393.5 980.0,390.6 981.2,390.0 982.8,387.2 984.2,387.4 985.9,385.7 987.5,386.0 988.8,385.3 990.0,387.9 991.2,387.0 992.5,387.7 993.8,385.4 995.0,386.3 996.5,384.9 998.0,385.1 999.2,386.0 1000.5,388.6 1001.8,391.7 1003.0,396.4 1004.6,396.4 1006.2,399.0 1007.9,396.4 1009.5,396.4 1011.0,396.9 1012.5,399.1 1014.0,398.9 1015.5,401.7 1017.1,400.9 1018.8,402.5 1020.8,403.1 1022.0,403.9 1023.2,402.6 1024.5,403.9 1026.0,403.6 1027.5,405.3 1028.8,403.9 1030.0,406.6 1031.2,405.6 1032.5,406.3 1033.8,404.8 1035.0,405.7 1036.2,403.9 1037.5,405.2 1038.8,403.7 1040.0,404.5 1041.2,402.7 1042.5,405.5 1043.8,406.1 1045.0,408.6 1046.2,408.6 1047.5,408.2 1048.8,406.0 1050.0,405.1 1051.2,402.0 1052.9,399.8 1054.5,395.7 1056.0,394.3 1057.5,390.8 1058.8,396.3 1060.0,400.0 1061.2,401.4 1062.5,400.0 1063.8,401.7 1065.0,399.5 1066.2,400.6 1067.5,398.8 1068.8,401.1 1070.0,400.9 1071.2,403.2 1072.5,403.0 1073.8,404.8 1075.0,404.4 1076.2,404.5 1077.5,402.1 1078.8,402.4 1080.0,402.6 1081.2,405.0 1082.5,404.5 1083.8,406.9 1085.0,406.7 1086.2,409.4 1087.5,407.9 1088.8,409.5 1090.0,406.7 1091.2,405.7 1092.9,403.9 1094.5,404.7 1096.0,404.0 1097.5,404.9 1098.8,403.3 1100.0,404.0 1101.2,402.7 1102.5,404.7 1103.8,404.8 1105.0,407.1 1106.2,407.3 1107.5,410.2 1108.8,410.7 1110.0,412.8 1111.2,413.2 1112.9,415.9 1114.5,417.1 1116.0,419.8 1117.5,420.5 1119.0,422.4 1120.5,422.7 1122.1,423.5 1123.8,421.2 1125.0,419.9 1126.2,416.0 1127.5,415.7 1128.8,412.5 1130.8,412.7 1132.2,412.6 1133.8,415.7 1135.0,415.4 1136.2,417.8 1137.5,417.2 1139.0,419.3 1140.5,418.7 1142.1,421.2 1143.8,421.6 1145.0,423.2 1146.2,423.0 1147.5,424.7 1148.8,423.4 1150.0,424.5 1151.2,423.0 1152.5,423.8 1153.8,421.8 1155.0,423.1 1155.5,422.8"/>
<polyline points="1158.3,424.7 1158.8,424.5 1160.0,425.3 1161.2,424.2 1162.5,425.1 1163.8,424.8 1165.0,427.3 1166.2,426.6 1167.5,429.2 1168.8,430.2 1170.0,433.0 1171.2,435.3 1172.5,439.2 1173.8,437.8 1175.0,438.1 1176.2,434.5 1177.5,433.3 1178.8,430.8 1180.0,430.8 1181.2,429.9 1182.5,431.9 1183.8,431.8 1185.0,431.4 1186.2,429.3 1187.5,428.7 1188.8,426.8 1190.0,428.3 1191.2,427.0 1192.5,428.7 1193.8,426.8 1195.0,428.1 1196.2,426.9 1197.5,427.6 1198.8,426.0 1200.0,427.1 1201.4,427.8 1202.8,430.4 1204.2,430.9 1205.9,432.7 1207.5,431.9 1208.8,433.2 1210.0,431.8 1211.2,433.1 1212.5,432.4 1213.8,434.7 1215.0,434.5 1216.2,436.5 1217.5,435.5 1218.8,437.9 1220.0,435.2 1221.2,436.1 1222.5,433.4 1223.8,435.8 1225.0,435.0 1226.2,436.5 1227.5,436.0 1228.8,438.3 1230.0,438.3 1231.2,440.4 1232.5,438.6 1233.8,440.5 1235.0,439.9 1236.2,441.7 1237.5,440.9 1239.1,441.4 1240.8,439.7 1242.2,441.7 1243.8,441.3 1245.0,443.2 1246.2,443.7 1247.5,447.2 1248.8,447.4 1250.0,450.2 1251.2,449.9 1252.5,452.4 1253.8,451.5 1255.0,452.6 1256.2,451.6 1257.5,452.9 1258.8,450.7 1260.0,451.6 1261.2,452.5 1262.5,455.3 1263.8,457.8 1265.0,461.5 1266.2,461.4 1267.5,462.7 1268.8,460.2 1270.0,459.4 1271.2,461.0 1272.5,464.6 1273.8,467.8 1275.0,472.2 1276.2,473.6 1277.5,477.2 1278.8,472.5 1280.0,469.5 1281.2,465.8 1282.5,463.3 1283.8,459.8 1285.0,458.5 1286.5,455.1 1288.0,454.4 1289.6,451.4 1291.2,450.5 1292.5,448.1 1293.8,449.5 1295.0,447.1 1296.2,447.2 1297.5,444.9 1298.8,445.0 1300.0,443.7 1301.2,444.4 1302.5,443.1 1303.8,443.8 1305.0,440.8 1306.2,441.2 1307.5,439.7 1308.8,440.7 1310.0,439.1 1311.4,439.7 1312.8,437.8 1314.2,438.1 1315.9,438.3 1317.5,441.1 1318.8,440.8 1320.0,444.0 1321.2,444.3 1322.5,445.4 1323.8,444.1 1325.0,446.2 1325.5,445.7"/>
<polyline points="1328.3,439.3 1328.8,439.1 1330.0,441.3 1331.2,440.5 1332.5,442.4 1333.8,441.7 1335.0,443.9 1336.2,443.0 1337.5,444.7 1338.8,443.3 1340.0,444.9 1341.2,443.8 1342.5,445.8 1343.8,444.2 1345.0,445.0 1346.2,443.0 1347.5,444.0 1349.1,442.7 1350.8,444.4 1352.2,440.1 1353.8,438.6 1355.4,435.2 1357.0,434.0 1358.5,432.2 1360.0,433.0 1361.2,431.2 1362.5,433.1 1363.8,432.1 1365.4,434.1 1367.0,433.3 1368.5,433.2 1370.0,430.8 1371.5,433.2 1373.0,433.7 1374.6,436.0 1376.2,436.0 1377.5,437.5 1378.8,436.4 1380.0,438.2 1381.2,437.0 1382.5,439.3 1383.8,438.4 1385.0,440.0 1386.2,438.6 1387.5,439.9 1388.8,438.7 1390.0,441.1 1391.2,439.9 1392.5,441.2 1393.8,439.6 1395.0,440.3 1396.2,439.5 1397.5,440.8 1398.8,439.8 1400.0,442.3 1401.2,442.5 1402.9,445.1 1404.5,445.3 1406.2,447.1 1408.0,446.4 1408.8,446.8"/>
<polyline points="1411.7,447.6 1412.5,447.6 1413.8,449.5 1415.0,448.5 1416.2,450.7 1417.5,449.5 1418.8,450.1 1420.0,449.2 1421.4,449.5 1422.8,447.1 1424.2,447.5 1425.9,447.1 1427.5,448.4 1428.8,447.1 1430.0,449.4 1431.2,447.8 1432.9,451.8 1434.5,453.1 1436.0,455.3 1437.5,455.7 1438.8,457.1 1440.0,456.3 1441.2,457.9 1442.5,455.4 1443.8,455.5 1445.0,456.8 1446.2,460.3 1447.5,459.8 1448.8,462.0 1450.0,461.4 1451.2,462.9 1452.5,461.0 1453.8,462.6 1455.0,462.1 1456.2,464.0 1457.5,462.7 1459.1,464.0 1460.8,463.4 1462.2,465.3 1463.8,465.2 1465.0,467.0 1466.2,465.7 1467.5,467.1 1468.8,466.6 1470.0,468.6 1471.2,468.0 1472.5,468.3 1473.8,466.8 1475.0,467.3 1476.2,466.2 1477.5,468.8 1478.8,467.8 1480.0,470.0 1481.2,469.3 1482.5,470.7 1483.8,470.0 1485.0,471.8 1486.2,471.8 1487.5,472.8 1488.8,471.2 1490.0,471.9 1491.2,469.4 1492.5,469.5 1493.8,466.8 1495.4,466.0 1497.0,462.8 1498.8,455.3 1500.5,431.6 1502.0,417.3 1503.8,416.6 1505.5,428.5 1507.5,430.1 1508.8,432.7 1510.0,432.2 1511.2,434.0 1512.5,433.2 1513.8,430.2 1515.0,426.2 1516.2,425.5 1517.5,423.0 1519.0,424.1 1520.5,422.5 1522.1,424.4 1523.8,424.4 1525.4,425.3 1527.0,423.7 1528.5,425.7 1530.0,425.9 1531.2,422.8 1532.5,418.3 1533.5,415.0 1535.0,415.5"/>
</g>
<g class="s-cyan">
<polyline points="215.0,345.5 216.2,339.9 217.5,335.3 218.8,331.8 220.0,330.4 221.2,325.7 222.5,322.5 223.8,320.2 225.0,319.3 227.0,322.3 228.8,331.4 230.0,329.4 231.2,330.3 232.5,326.4 233.8,325.3 235.0,321.6 236.2,320.1 237.5,319.7 238.8,321.8 240.0,325.1 241.2,330.4 242.5,330.3 243.8,332.5 245.0,329.0 246.2,327.9 247.5,324.3 248.8,322.5 250.2,320.2 251.8,320.3 253.8,313.3 255.5,305.5 257.5,302.1 259.5,309.3 261.2,317.3 263.0,325.5 264.2,326.7 265.5,330.6 266.8,327.6 268.0,327.6 270.0,331.2 272.0,343.9 274.0,354.4 275.1,358.6 276.2,360.9 277.5,360.0 278.8,357.2 280.0,359.5 281.2,359.8 282.5,360.3 283.8,358.4 285.0,359.9 286.2,358.3 288.2,360.6 289.4,360.9 290.5,364.6 291.8,362.3 293.0,362.6 294.6,358.9 296.2,358.1 297.5,354.7 298.8,355.0 300.0,352.1 301.2,354.3 302.5,353.9 303.8,356.6 305.0,359.6 306.2,363.8 307.5,363.3 308.8,365.6 310.0,364.1 311.2,365.2 312.5,363.5 313.8,360.3 315.0,356.1 316.2,356.6 317.5,354.5 318.8,354.6 320.0,352.4 321.2,352.5 322.5,350.4 323.8,351.0 325.0,348.7 326.5,353.9 328.0,355.9 329.2,359.9 330.5,361.1 332.1,361.1 333.8,359.6 335.0,359.8 336.2,358.6 337.5,356.1 338.8,352.1 340.0,351.2 341.2,348.7 342.5,350.5 343.8,349.8 345.0,347.6 346.2,343.2 347.5,342.0 348.8,338.5 350.0,339.0 351.2,337.1 352.8,339.0 354.2,338.4 355.6,340.9 357.0,340.7 358.2,342.7 359.5,342.2 360.8,344.1 362.0,343.6 363.5,346.9 365.0,348.2 367.0,354.1 368.5,352.3 370.0,352.5 371.2,351.1 372.5,351.6 373.8,348.3 375.0,346.6 376.2,344.1 377.5,343.8 379.0,343.5 380.5,345.3 382.1,347.8 383.8,352.7 385.0,352.8 386.2,355.4 387.8,353.9 389.2,353.8 390.9,352.2 392.5,353.1 394.1,352.5 395.8,354.0 397.0,353.2 398.2,354.7 399.8,352.2 401.2,351.4 402.5,349.9 403.8,350.4 405.5,362.3 407.5,375.2 409.5,377.0 410.8,372.8 412.0,367.2 413.2,366.6 414.5,363.6 416.0,365.0 417.5,364.5 418.8,364.4 420.0,362.4 421.2,361.4 422.5,358.3 423.8,361.7 425.0,363.6 426.5,366.3 428.0,367.0 429.2,370.1 430.5,370.7 431.8,372.2 433.2,371.4 434.5,372.9 436.0,372.0 437.5,374.0 438.8,372.7 440.0,373.4 441.2,372.2 442.5,372.2 443.8,369.8 445.0,370.5 446.5,366.9 448.0,365.2 449.6,362.7 451.2,362.9 452.9,360.8 454.5,361.5 456.0,363.9 457.5,367.7 459.0,369.6 460.5,373.9 462.1,372.4 463.8,372.8 465.0,371.3 466.2,372.4 467.5,370.7 468.9,371.5 470.3,370.3 471.8,371.1 473.4,367.3 475.0,366.8 476.2,365.9 477.5,368.2 478.8,366.9 480.0,367.3 481.2,364.8 482.5,365.5 483.8,363.6 485.0,365.0 486.2,363.6 487.5,363.8 488.8,362.4 490.4,365.5 492.0,367.1 493.5,369.4 495.0,369.5 496.2,371.7 497.5,372.0 498.8,373.0 500.0,370.5 501.2,371.8 502.5,370.5 503.8,373.0 505.0,372.5 506.2,372.5 507.5,369.9 508.8,369.7 510.0,368.7 511.2,370.7 512.5,369.8 514.0,370.5 515.5,368.4 517.1,368.2 518.8,366.1 520.0,369.2 521.2,369.7 522.8,372.3 524.2,372.3 525.9,371.8 527.5,369.7 529.0,369.8 530.5,367.4 531.9,364.4 533.2,359.4 534.8,359.2 536.2,355.8 537.5,356.7 538.8,355.9 540.0,360.7 541.2,363.7 542.5,366.5 543.8,367.3 545.0,370.3 546.5,367.4 548.0,366.5 549.6,364.6 551.2,365.0 552.5,364.5 553.8,365.5 555.0,364.9 556.5,366.1 558.0,365.7 559.6,369.8 561.2,371.2 562.5,372.9 563.8,372.3 565.0,373.9 566.2,374.3 567.5,377.2 568.8,377.1 570.2,377.6 571.8,376.1 573.4,376.3 575.0,374.9 576.5,377.7 578.0,378.3 580.0,380.2 581.2,380.7 582.5,384.5 583.8,387.3 585.0,387.6 586.2,384.8 587.5,385.2 588.8,385.6 590.0,389.2 591.2,389.7 592.5,389.9 593.8,387.5 595.0,387.9 596.2,386.3 597.5,387.6 598.8,386.0 600.0,388.9 601.2,389.6 602.5,392.9 603.8,391.2 605.0,391.6 606.2,389.7 607.5,391.1 608.8,388.8 610.0,390.2 611.2,393.1 612.5,398.0 613.8,402.1 615.0,407.8 616.5,409.5 618.0,413.0 620.0,415.9 622.0,433.0 623.2,423.8 624.5,416.7 626.0,414.6 627.5,415.3 628.8,414.1 630.0,415.0 631.2,413.7 632.5,417.8 633.8,420.8 635.0,420.5 636.2,418.7 637.5,418.0 638.8,415.1 640.0,415.1 641.2,415.8 642.5,418.0 644.0,419.5 645.5,423.0 647.1,420.3 648.8,420.5 650.0,420.1 651.2,422.8 652.5,421.9 653.8,423.8 655.0,423.3 656.2,427.4 657.5,429.6 658.8,438.4 660.0,445.8 662.0,451.1 663.2,443.7 664.5,437.7 666.2,433.4 667.5,438.1 668.8,441.1 670.0,439.3 671.2,436.1 672.5,436.7 673.8,434.4 675.0,435.2 676.2,433.5 677.5,434.1 678.8,432.3 680.0,432.0 681.2,429.5 682.5,429.1 683.8,429.4 685.0,432.7 686.2,432.1 687.5,433.8 688.8,432.0 690.0,433.1 691.2,430.8 692.5,430.2 693.8,427.2 695.0,425.9 696.2,422.0 697.5,421.2 698.8,418.7 700.0,419.3 701.2,416.8 702.5,417.8 703.8,415.9 705.0,416.8 706.2,414.9 707.5,414.4 708.8,411.9 710.0,411.6 711.2,411.2 712.5,412.6 713.8,408.8 715.0,406.8 716.2,403.1 717.5,401.7 718.8,399.7 720.0,400.7 721.2,398.4 722.5,399.4 723.8,398.2 725.0,398.8 726.5,399.8 728.0,402.7 729.6,404.4 731.2,407.7 732.5,408.1 733.8,411.0 735.0,411.2 736.2,413.3 737.5,412.1 738.8,414.1 740.0,413.8 741.2,416.5 742.5,415.8 743.8,417.5 745.0,416.3 746.2,417.9 747.5,416.0 748.8,417.4 750.0,415.8 751.2,419.3 752.5,419.7 753.8,423.5 755.0,426.1 756.2,426.6 757.5,424.6 758.8,424.9 760.0,422.0 761.5,422.1 763.0,419.9 764.5,419.7 766.0,418.6 767.5,419.2 768.8,418.1 770.0,420.7 771.2,419.8 772.5,421.9 773.8,421.0 775.0,422.8 776.2,422.3 777.5,424.7 778.8,424.9 780.0,426.9 781.2,426.0 782.5,427.7 783.8,427.9 785.0,430.9 786.2,431.2 787.5,431.5 788.8,429.7 790.0,430.3 791.2,428.6 792.5,429.2 793.8,426.9 795.0,430.7 796.2,432.2 797.5,434.3 798.8,434.8 800.0,437.8 801.2,438.7 802.5,440.7 803.8,439.3 805.0,441.3 806.2,440.5 807.5,442.8 808.8,442.0 810.0,444.8 811.2,444.8 812.5,448.4 813.8,449.6 815.0,452.3 816.2,452.3 817.5,451.0 818.8,446.9 820.0,447.2 821.2,444.7 822.5,446.8 823.8,447.2 825.0,449.4 826.2,449.6 827.5,453.4 828.8,454.7 830.0,458.1 831.2,459.6 832.5,462.8 833.8,463.6 835.5,468.0 837.5,459.6 838.8,458.0 840.0,454.4 841.2,453.0 842.5,449.8 843.8,452.2 845.0,452.1 846.2,452.1 847.5,449.1 848.8,449.0 850.0,446.4 851.2,446.0 852.5,443.7 853.8,446.0 855.0,445.8 856.2,448.3 857.5,447.8 858.8,450.2 860.0,449.4 861.2,450.7 862.5,449.5 863.8,451.1 865.0,450.9 866.2,448.5 867.5,444.5 868.8,444.0 870.0,441.0 871.2,440.2 872.5,437.9 873.8,438.5 875.0,436.0 876.2,437.7 877.5,436.6 878.8,437.7 880.0,437.0 881.2,438.0 882.5,437.0 883.8,440.4 885.0,441.1 886.2,443.7 887.5,444.8 888.8,446.0 890.0,443.9 891.2,445.4 892.5,442.9 893.8,442.6 895.0,441.8 896.2,443.1 897.5,442.2 898.6,442.5"/>
<polyline points="901.4,441.1 902.5,439.9 903.8,438.1 905.0,434.5 906.2,434.2 907.5,431.5 908.8,431.8 910.0,430.5 911.2,432.2 912.5,428.8 913.8,428.2 915.0,424.6 916.2,424.9 917.5,421.5 918.8,421.4 920.0,419.7 921.2,421.2 922.5,419.6 923.8,421.4 925.0,420.4 926.2,421.7 927.5,422.8 928.8,426.5 930.0,425.0 931.2,426.2 932.5,424.9 933.8,425.0 935.0,422.9 936.2,422.8 937.5,422.0 938.8,424.1 940.0,423.4 941.2,426.8 942.5,427.0 943.8,428.3 945.0,427.1 946.2,429.3 947.5,428.7 948.8,428.2 950.0,425.6 951.2,425.0 952.5,424.2 953.8,426.1 955.0,424.8 956.2,428.6 957.5,429.6 958.8,431.8 960.0,432.0 961.2,433.8 962.5,432.2 963.8,434.2 965.0,434.0 966.2,436.9 967.5,437.0 968.8,437.8 970.0,434.7 971.2,435.3 972.5,432.7 973.8,433.3 975.0,431.2 976.2,432.1 977.5,431.6 978.8,432.6 980.0,430.1 981.2,429.0 982.8,426.8 984.2,427.1 985.9,425.1 987.5,425.4 988.8,424.8 990.0,426.6 991.2,425.8 992.5,426.1 993.8,424.0 995.0,424.3 996.5,421.9 998.0,422.2 999.2,423.4 1000.5,426.6 1001.8,428.8 1003.0,432.6 1004.6,433.3 1006.2,435.1 1007.9,432.1 1009.5,431.3 1011.0,429.8 1012.5,430.1 1014.0,430.7 1015.5,432.6 1017.1,431.8 1018.8,432.6 1020.8,433.2 1022.0,434.8 1023.2,434.7 1024.5,436.5 1026.0,437.7 1027.5,440.0 1028.8,440.5 1030.0,443.2 1031.2,443.3 1032.5,444.6 1033.8,443.8 1035.0,445.2 1036.2,445.0 1037.5,447.0 1038.8,446.1 1040.0,446.1 1041.2,444.7 1042.5,446.8 1043.8,447.1 1045.0,447.6 1046.2,446.2 1047.5,445.9 1048.8,443.6 1050.0,443.9 1051.2,441.9 1052.5,442.9 1053.8,440.7 1055.0,441.1 1056.2,439.0 1057.5,438.9 1058.8,441.2 1060.0,445.4 1061.2,444.3 1062.5,445.5 1063.8,444.6 1065.0,444.9 1066.2,441.6 1067.5,441.3 1068.8,442.1 1070.0,444.2 1071.2,444.9 1072.5,445.0 1073.8,443.7 1075.0,444.1 1076.2,441.8 1077.5,442.7 1078.8,440.7 1080.0,442.5 1081.2,441.0 1082.5,443.1 1083.8,442.2 1085.0,444.6 1086.2,444.8 1087.5,446.5 1088.8,445.7 1090.0,442.2 1091.2,437.3 1092.9,436.3 1094.5,432.9 1096.0,433.5 1097.5,432.3 1098.8,433.5 1100.0,431.4 1101.2,432.6 1102.5,432.8 1103.8,435.4 1105.0,435.2 1106.2,437.8 1107.5,438.2 1108.8,441.5 1110.0,441.8 1111.2,443.9 1112.9,444.0 1114.5,446.5 1116.0,447.5 1117.5,450.1 1119.0,450.9 1120.5,454.1 1122.1,451.5 1123.8,451.5 1125.0,448.6 1126.2,447.6 1127.5,445.9 1128.8,446.3 1130.8,444.2 1132.2,447.0 1133.8,447.1 1135.0,448.8 1136.2,448.6 1137.5,450.5 1139.0,449.7 1140.5,451.8 1142.1,450.8 1143.8,452.8 1145.0,451.8 1146.2,454.3 1147.5,453.5 1148.8,454.7 1150.0,453.8 1151.2,454.7 1152.5,453.5 1153.8,455.3 1155.0,454.7 1155.5,455.0"/>
<polyline points="1158.3,457.0 1158.8,457.0 1160.0,458.1 1161.2,456.7 1162.5,457.5 1163.8,457.6 1165.0,459.7 1166.2,458.5 1167.5,460.0 1168.8,461.9 1170.0,465.6 1171.2,466.9 1172.5,470.3 1173.8,468.6 1175.0,469.2 1176.2,466.6 1177.5,466.7 1178.8,464.8 1180.0,465.1 1181.2,464.0 1182.5,464.6 1183.8,463.3 1185.0,463.0 1186.2,461.2 1187.5,461.8 1188.8,459.9 1190.0,462.0 1191.2,461.2 1192.5,462.8 1193.8,461.9 1195.0,463.6 1196.2,462.1 1197.5,464.3 1198.8,463.2 1200.0,465.5 1201.4,464.7 1202.8,466.7 1204.2,466.0 1205.9,468.0 1207.5,468.2 1208.8,470.1 1210.0,468.5 1211.2,470.1 1212.5,470.4 1213.8,473.3 1215.0,473.3 1216.2,475.1 1217.5,474.7 1218.8,476.5 1220.0,475.4 1221.2,476.3 1222.5,474.6 1223.8,477.0 1225.0,476.6 1226.2,479.1 1227.5,479.0 1228.8,481.1 1230.0,480.7 1231.2,482.3 1232.5,481.3 1233.8,482.6 1235.0,481.1 1236.2,481.4 1237.5,479.4 1239.1,478.7 1240.8,475.0 1242.2,478.3 1243.8,478.4 1245.0,481.1 1246.2,480.4 1247.5,482.8 1248.8,482.2 1250.0,485.3 1251.2,484.4 1252.5,485.8 1253.8,484.0 1255.0,485.2 1256.2,484.2 1257.5,487.0 1258.8,486.1 1260.0,487.8 1261.2,486.5 1262.5,487.6 1264.0,487.1 1265.5,488.9 1266.8,485.4 1268.0,484.1 1270.0,481.2 1271.2,484.8 1272.5,486.1 1273.8,489.5 1275.0,491.0 1276.2,493.1 1277.5,492.6 1278.8,489.4 1280.0,484.9 1281.2,482.3 1282.5,478.5 1283.8,477.4 1285.0,474.9 1286.5,474.8 1288.0,472.1 1289.6,473.1 1291.2,470.7 1292.5,471.5 1293.8,468.9 1295.0,468.8 1296.2,467.3 1297.5,467.9 1298.8,465.9 1300.0,467.1 1301.2,465.5 1302.5,466.8 1303.8,464.8 1305.0,465.4 1306.2,463.2 1307.5,465.2 1308.8,463.9 1310.0,465.1 1311.4,463.5 1312.8,464.6 1314.2,463.7 1315.9,465.2 1317.5,464.7 1318.8,466.0 1320.0,465.4 1321.2,466.4 1322.5,465.8 1323.8,468.2 1325.0,467.4 1325.5,468.1"/>
<polyline points="1328.3,463.6 1328.8,463.2 1330.0,465.0 1331.2,464.9 1332.5,466.3 1333.8,466.3 1335.0,468.6 1336.2,468.7 1337.5,468.8 1338.8,466.6 1340.0,466.4 1341.2,465.6 1342.5,467.3 1343.8,466.0 1345.0,466.5 1346.2,465.0 1347.5,465.3 1349.1,464.7 1350.8,466.7 1352.2,463.9 1353.8,464.2 1355.4,461.3 1357.0,460.1 1358.5,458.4 1360.0,459.2 1361.2,457.9 1362.5,459.8 1363.8,458.4 1365.4,459.4 1367.0,458.6 1368.5,457.9 1370.0,455.9 1371.5,458.0 1373.0,457.0 1374.6,459.5 1376.2,459.6 1377.5,461.6 1378.8,459.8 1380.0,461.6 1381.2,460.8 1382.5,462.6 1383.8,461.9 1385.0,462.7 1386.2,461.4 1387.5,463.1 1388.8,462.5 1390.0,464.9 1391.2,464.8 1392.5,466.2 1393.8,464.8 1395.0,466.5 1396.2,465.5 1397.5,467.6 1398.8,467.3 1400.0,469.2 1401.2,468.4 1402.5,470.5 1403.8,469.4 1405.0,472.0 1406.2,470.9 1407.5,472.3 1408.8,472.2 1409.5,472.7"/>
<polyline points="1412.3,471.0 1413.0,471.0 1414.6,473.1 1416.2,473.3 1417.5,474.9 1418.8,473.3 1420.0,474.2 1421.4,472.5 1422.8,473.4 1424.2,471.5 1425.9,472.2 1427.5,469.6 1428.8,469.9 1430.0,468.2 1431.5,468.7 1433.0,467.3 1435.0,473.0 1436.2,472.7 1437.5,474.8 1438.8,474.4 1440.0,476.6 1441.2,475.2 1442.5,476.5 1443.8,476.0 1445.0,477.6 1446.2,477.3 1447.5,479.5 1448.8,478.7 1450.0,480.1 1451.2,479.6 1452.5,480.8 1453.8,480.2 1455.0,481.7 1456.2,479.9 1457.5,481.6 1459.1,479.6 1460.8,480.0 1462.2,480.0 1463.8,481.8 1465.0,481.2 1466.2,482.7 1467.5,482.2 1468.8,483.5 1470.0,482.5 1471.2,483.8 1472.5,483.6 1473.8,485.8 1475.0,484.9 1476.2,487.0 1477.5,486.1 1478.8,488.1 1480.0,487.4 1481.2,490.1 1482.5,489.9 1483.8,491.3 1485.0,490.7 1486.2,492.6 1487.9,492.6 1489.5,494.2 1491.0,490.8 1492.5,490.0 1493.8,486.3 1495.0,485.3 1497.0,476.5 1498.8,470.1 1500.5,449.8 1502.0,428.1 1503.8,422.3 1505.0,432.6 1507.0,437.4 1508.2,439.9 1509.5,441.0 1510.8,444.9 1512.0,446.2 1513.2,443.5 1514.5,439.4 1515.8,439.3 1517.0,435.7 1518.5,436.9 1520.0,436.0 1521.6,438.0 1523.2,437.2 1524.8,439.7 1526.2,439.8 1527.5,439.2 1528.8,437.3 1530.8,430.4 1532.5,423.3 1533.5,422.8 1535.0,426.2"/>
</g>
<g class="s-grey">
<polyline points="215.0,345.5 216.2,340.5 217.5,336.3 218.8,333.0 220.0,331.3 221.2,330.4 222.5,331.1 223.8,329.4 225.4,332.9 227.0,333.3 228.5,333.1 230.0,330.9 231.2,331.3 232.5,329.9 233.8,326.6 235.0,322.4 236.2,321.8 237.5,318.3 238.8,321.7 240.0,322.0 241.5,327.2 243.0,331.1 244.2,329.7 245.5,325.8 247.1,326.7 248.8,324.5 250.2,324.6 251.8,322.9 253.4,322.6 255.0,319.7 257.0,315.1 258.8,317.2 260.8,325.1 261.9,327.4 263.0,331.8 264.2,332.9 265.5,336.4 266.8,333.9 268.0,334.1 270.0,337.0 272.0,345.5 274.0,354.7 275.1,357.6 276.2,358.4 277.5,356.1 278.8,352.4 280.0,355.0 281.2,355.8 282.5,355.5 283.8,353.7 285.0,355.9 286.2,356.1 287.5,357.7 288.8,357.2 290.2,356.9 291.8,354.4 293.4,354.9 295.0,353.5 296.5,352.5 298.0,349.6 299.2,350.0 300.5,348.5 301.8,350.4 303.0,349.8 304.2,353.4 305.5,354.5 306.8,356.7 308.0,357.5 309.6,356.2 311.2,353.3 312.8,352.2 314.2,348.6 315.6,348.2 317.0,346.1 318.5,346.4 320.0,345.0 321.2,344.7 322.5,342.0 323.8,343.0 325.0,340.8 326.6,344.3 328.2,345.0 329.8,348.1 331.2,349.4 332.8,350.4 334.2,348.5 335.6,346.8 337.0,342.1 338.5,342.9 340.0,341.1 341.2,341.2 342.5,339.7 344.0,338.7 345.5,336.0 346.9,336.8 348.2,334.8 349.8,333.6 351.2,331.2 352.5,331.2 353.8,329.5 355.2,332.0 356.8,332.3 358.1,333.6 359.5,333.2 360.8,334.5 362.0,333.6 363.5,334.8 365.0,335.0 366.5,337.4 368.0,338.3 369.4,336.2 370.8,332.5 372.2,332.1 373.8,329.9 375.0,329.9 376.2,327.4 377.8,327.1 379.2,324.5 380.5,327.6 381.8,328.2 383.1,328.3 384.5,326.1 386.0,326.4 387.5,325.0 389.0,326.4 390.5,326.1 391.9,325.5 393.2,322.0 394.5,322.7 395.8,321.2 397.0,322.2 398.2,321.9 400.0,321.0 401.8,318.6 403.1,319.2 404.5,317.4 406.2,325.0 408.2,334.4 410.0,335.3 411.5,330.5 413.0,327.7 414.4,323.9 415.8,322.9 417.2,320.2 418.8,320.4 420.0,318.8 421.2,319.7 422.5,318.6 423.8,321.1 425.0,320.7 426.5,324.9 428.0,326.0 429.2,328.4 430.5,328.3 431.8,328.4 433.2,325.2 434.5,325.3 436.0,322.8 437.5,322.9 438.8,322.5 440.0,324.3 441.5,323.2 443.0,325.0 444.4,323.2 445.8,324.3 447.2,324.1 448.8,326.3 450.0,322.6 451.2,321.3 452.5,319.7 453.8,321.4 455.0,320.0 456.5,322.4 458.0,323.4 459.4,326.5 460.8,327.1 462.0,329.1 463.2,327.7 464.5,328.8 466.2,328.2 468.0,330.0 469.2,329.1 470.5,330.8 471.8,330.0 473.4,333.8 475.0,334.5 477.0,336.6 478.2,332.6 479.5,331.4 481.0,328.4 482.5,327.7 483.8,326.4 485.0,328.0 486.5,325.5 488.0,325.3 489.6,325.8 491.2,327.5 492.9,326.0 494.5,326.5 496.0,325.8 497.5,327.9 498.8,325.7 500.0,325.2 501.2,324.6 502.5,326.6 504.0,323.9 505.5,323.0 507.1,320.4 508.8,320.6 510.4,320.7 512.0,322.7 513.2,320.2 514.5,320.2 516.0,317.5 517.5,316.5 519.0,315.7 520.5,317.6 522.1,317.6 523.8,319.1 525.0,317.0 526.2,317.8 527.9,318.0 529.5,320.5 531.0,319.6 532.5,321.3 534.0,317.6 535.5,316.4 537.1,315.0 538.8,315.5 540.0,318.3 541.2,323.0 542.5,323.4 543.8,326.6 545.0,326.9 546.5,325.9 548.0,323.5 549.6,323.8 551.2,322.2 552.9,323.6 554.5,322.1 556.0,322.3 557.5,321.1 558.8,324.9 560.0,327.2 561.2,331.2 562.5,333.5 564.0,335.5 565.5,336.1 567.1,336.7 568.8,334.8 570.2,336.6 571.8,335.7 573.0,336.5 574.2,334.6 575.5,338.4 576.8,339.8 578.0,342.4 579.2,342.2 580.0,345.5 582.0,344.1 583.8,350.5 585.0,349.4 586.2,351.7 587.5,351.0 588.8,353.9 590.0,354.4 591.2,357.7 592.5,354.9 593.8,354.7 595.0,352.5 596.2,353.0 597.5,351.4 598.8,352.6 600.0,351.0 601.2,352.4 602.5,350.9 603.8,351.1 605.0,348.7 606.2,348.8 607.5,347.4 608.8,348.1 610.0,350.3 611.2,354.1 612.5,357.7 613.8,362.7 615.0,365.4 616.2,368.8 618.0,367.4 620.0,371.7 622.0,388.3 623.2,381.9 624.5,373.2 625.0,372.6 626.2,370.8 627.5,371.6 628.8,369.7 630.0,371.8 631.2,370.8 632.5,375.7 633.8,378.7 635.0,377.8 636.2,374.6 637.5,375.4 638.8,373.4 640.0,377.3 641.2,378.6 642.5,381.1 643.8,381.0 645.0,384.9 646.2,387.0 647.5,387.8 648.8,386.1 650.0,388.1 651.2,388.6 652.5,389.2 653.8,386.7 655.0,388.0 656.2,390.8 657.5,395.2 658.8,403.1 660.0,412.7 662.0,417.8 663.2,410.5 664.5,402.4 666.0,402.1 667.5,399.6 668.8,400.3 670.0,398.5 671.2,398.0 672.5,394.6 673.8,394.9 675.0,393.7 676.2,393.7 677.5,390.1 678.8,390.6 680.0,387.9 681.2,388.2 682.5,386.2 683.8,389.4 685.0,391.1 686.2,391.1 687.5,388.2 688.8,388.9 690.0,386.5 691.2,386.4 692.5,383.1 693.8,381.8 695.0,377.2 696.2,374.2 697.5,372.0 698.8,372.9 700.0,370.7 701.2,371.9 702.5,370.4 703.8,371.3 705.0,369.9 706.2,370.0 707.5,368.6 708.8,368.0 710.0,365.8 711.2,365.6 712.5,365.0 713.8,366.8 715.0,362.5 716.2,360.4 717.5,356.3 718.8,354.3 720.0,352.0 721.2,352.9 722.5,352.1 723.8,354.3 725.0,353.3 726.5,355.0 728.0,354.2 729.6,356.5 731.2,357.0 732.5,360.2 733.8,361.2 735.0,361.0 736.2,358.5 737.5,358.9 738.8,357.6 740.0,358.9 741.2,357.0 742.5,359.4 743.8,359.8 745.0,361.4 746.2,361.2 747.5,360.5 748.8,357.5 750.0,359.5 751.2,358.6 752.5,360.1 753.8,360.8 755.0,364.2 756.2,363.8 757.5,365.3 758.8,361.7 760.0,360.4 761.2,358.2 762.5,358.0 764.5,355.7 766.0,356.6 767.5,354.4 768.8,355.5 770.0,353.5 771.2,355.7 772.5,354.3 773.8,356.6 775.0,358.2 776.2,361.6 777.5,361.0 778.8,363.6 780.0,363.4 781.2,366.1 782.5,365.9 783.8,369.2 785.0,370.9 786.2,372.5 787.5,372.0 788.8,370.9 790.0,367.3 791.2,367.4 792.5,364.6 793.8,366.3 795.0,365.7 796.2,370.7 797.5,373.2 798.8,376.9 800.0,377.0 801.2,380.4 802.5,379.7 803.8,381.6 805.0,379.4 806.2,380.2 807.5,380.1 808.8,381.7 810.0,381.7 811.2,384.1 812.5,385.4 813.8,388.9 815.0,389.4 816.2,391.3 817.5,387.5 818.8,385.5 820.0,382.2 821.2,381.3 822.5,381.3 823.8,384.2 825.0,384.2 826.2,386.3 827.5,386.0 828.8,388.8 830.0,388.4 831.2,391.1 832.5,392.1 833.8,393.6 835.0,393.5 836.2,393.0 837.5,391.0 838.8,388.8 840.0,384.6 841.2,383.6 842.5,379.8 843.8,382.6 845.0,383.4 846.2,384.8 847.5,384.8 848.8,384.9 850.0,381.5 851.2,381.8 852.5,381.8 853.8,384.2 855.0,383.5 856.2,386.4 857.5,386.0 858.8,388.1 860.0,388.7 861.2,389.4 862.5,386.8 863.8,387.7 865.0,387.7 866.2,390.2 867.5,387.8 868.8,388.6 870.0,386.1 871.2,385.9 872.5,383.6 873.8,384.6 875.0,383.7 876.2,385.2 877.5,384.8 878.8,386.8 880.0,386.1 881.2,388.1 882.5,387.4 883.8,390.6 885.0,391.2 886.2,393.0 887.5,393.2 888.8,395.6 890.0,394.7 891.2,396.8 892.5,393.6 893.8,392.6 895.0,391.8 896.2,393.3 897.5,391.9 898.6,392.5"/>
<polyline points="901.4,387.1 902.5,386.1 903.8,385.5 905.0,382.4 906.2,382.8 907.5,380.2 908.8,380.3 910.0,379.7 911.2,381.8 912.5,379.9 913.8,380.7 915.0,378.6 916.2,378.5 917.5,375.8 918.8,375.5 920.0,373.2 921.2,373.1 922.5,371.2 923.8,371.5 925.0,369.7 926.2,370.6 927.5,371.0 928.8,374.0 930.0,372.1 931.2,373.5 932.5,372.4 933.8,373.0 935.0,370.7 936.2,373.0 937.5,371.7 938.8,373.8 940.0,374.3 941.2,378.1 942.5,378.3 943.8,380.0 945.0,378.6 946.2,379.9 947.5,379.4 948.8,380.0 950.0,378.2 951.2,379.1 952.5,377.6 953.8,378.9 955.0,377.0 956.2,380.2 957.5,380.4 958.8,382.6 960.0,383.6 961.2,385.2 962.5,384.5 963.8,386.4 965.0,386.6 966.2,389.4 967.5,389.8 968.8,391.4 970.0,389.7 971.2,391.4 972.5,389.3 973.8,389.9 975.0,387.4 976.2,387.9 977.5,386.9 978.8,388.0 980.0,384.6 981.2,384.3 982.8,381.7 984.2,381.3 985.9,380.0 987.5,380.4 988.8,379.7 990.0,381.4 991.2,381.0 992.5,381.6 993.8,379.7 995.0,380.3 996.5,378.8 998.0,378.8 999.2,379.6 1000.5,382.9 1001.8,385.8 1003.0,390.1 1004.6,390.6 1006.2,392.8 1007.9,390.1 1009.5,390.3 1011.0,390.1 1012.5,392.8 1014.0,393.2 1015.5,395.4 1017.1,394.7 1018.8,396.6 1020.8,396.6 1022.0,397.6 1023.2,396.6 1024.5,398.0 1026.0,397.6 1027.5,398.8 1028.8,398.6 1030.0,400.2 1031.2,399.7 1032.5,400.5 1033.8,398.8 1035.0,399.6 1036.2,398.6 1037.5,399.9 1038.8,398.4 1040.0,399.3 1041.2,396.9 1042.5,400.0 1043.8,401.0 1045.0,403.3 1046.2,403.4 1047.5,403.2 1048.8,400.7 1050.0,399.9 1051.2,397.2 1052.9,395.5 1054.5,392.0 1056.0,391.9 1057.5,388.9 1058.8,393.8 1060.0,397.1 1061.2,398.0 1062.5,396.2 1063.8,396.7 1065.0,394.3 1066.2,395.1 1067.5,393.2 1068.8,396.0 1070.0,395.4 1071.2,397.8 1072.5,397.3 1073.8,398.8 1075.0,398.5 1076.2,399.0 1077.5,396.5 1078.8,396.5 1080.0,396.4 1081.2,398.9 1082.5,398.2 1083.8,401.1 1085.0,400.6 1086.2,402.8 1087.5,402.1 1088.8,402.8 1090.0,399.5 1091.2,399.3 1092.9,397.6 1094.5,397.8 1096.0,397.0 1097.5,397.8 1098.8,396.0 1100.0,397.3 1101.2,395.7 1102.5,398.7 1103.8,398.3 1105.0,400.6 1106.2,400.7 1107.5,404.3 1108.8,404.4 1110.0,406.7 1111.2,407.5 1112.9,410.0 1114.5,410.9 1116.0,413.9 1117.5,414.9 1119.0,417.2 1120.5,417.1 1122.1,417.8 1123.8,415.9 1125.0,414.6 1126.2,410.8 1127.5,409.8 1128.8,407.2 1130.8,407.6 1132.2,408.2 1133.8,410.5 1135.0,410.2 1136.2,412.4 1137.5,412.3 1139.0,414.0 1140.5,413.7 1142.1,415.9 1143.8,416.2 1145.0,418.2 1146.2,417.4 1147.5,419.2 1148.8,417.5 1150.0,418.7 1151.2,417.3 1152.5,418.0 1153.8,416.2 1155.0,417.3 1155.5,417.0"/>
<polyline points="1158.3,418.8 1158.8,418.6 1160.0,419.7 1161.2,418.2 1162.5,419.0 1163.8,418.8 1165.0,421.5 1166.2,420.7 1167.5,422.8 1168.8,423.8 1170.0,426.8 1171.2,428.8 1172.5,432.9 1173.8,430.7 1175.0,431.5 1176.2,428.1 1177.5,426.4 1178.8,424.3 1180.0,423.9 1181.2,423.5 1182.5,425.2 1183.8,424.7 1185.0,424.4 1186.2,422.3 1187.5,422.2 1188.8,419.8 1190.0,421.5 1191.2,419.8 1192.5,421.4 1193.8,419.8 1195.0,421.0 1196.2,419.9 1197.5,421.0 1198.8,419.2 1200.0,419.5 1201.4,419.8 1202.8,422.8 1204.2,423.4 1205.9,425.2 1207.5,424.9 1208.8,425.6 1210.0,423.8 1211.2,425.2 1212.5,425.2 1213.8,427.4 1215.0,427.1 1216.2,429.0 1217.5,428.7 1218.8,430.5 1220.0,428.3 1221.2,428.0 1222.5,426.2 1223.8,428.3 1225.0,427.2 1226.2,429.2 1227.5,428.7 1228.8,431.6 1230.0,431.0 1231.2,432.4 1232.5,431.1 1233.8,432.5 1235.0,432.2 1236.2,434.3 1237.5,433.4 1239.1,433.9 1240.8,431.9 1242.2,433.9 1243.8,433.3 1245.0,435.7 1246.2,436.2 1247.5,438.8 1248.8,439.9 1250.0,441.7 1251.2,441.9 1252.5,443.8 1253.8,443.0 1255.0,444.7 1256.2,443.3 1257.5,444.4 1258.8,442.2 1260.0,442.9 1261.2,443.3 1262.5,446.5 1263.8,448.7 1265.0,452.6 1266.2,452.0 1267.5,454.3 1268.8,450.7 1270.0,450.5 1271.2,451.5 1272.5,455.3 1273.8,458.2 1275.0,463.0 1276.2,464.1 1277.5,467.9 1278.8,463.1 1280.0,460.2 1281.2,456.5 1282.5,453.8 1283.8,450.1 1285.0,449.1 1286.5,445.9 1288.0,445.1 1289.6,442.6 1291.2,441.5 1292.5,439.3 1293.8,440.3 1295.0,438.5 1296.2,438.7 1297.5,436.0 1298.8,436.3 1300.0,434.7 1301.2,435.8 1302.5,434.6 1303.8,435.2 1305.0,432.5 1306.2,432.9 1307.5,431.4 1308.8,432.2 1310.0,431.0 1311.4,431.5 1312.8,429.4 1314.2,430.3 1315.9,430.3 1317.5,433.1 1318.8,432.7 1320.0,436.0 1321.2,435.7 1322.5,437.8 1323.8,436.1 1325.0,437.7 1325.5,437.6"/>
<polyline points="1328.3,431.1 1328.8,430.8 1330.0,433.1 1331.2,431.8 1332.5,434.2 1333.8,433.2 1335.0,435.2 1336.2,434.6 1337.5,436.0 1338.8,434.9 1340.0,436.4 1341.2,435.8 1342.5,437.4 1343.8,435.7 1345.0,436.5 1346.2,435.0 1347.5,435.5 1349.1,434.2 1350.8,435.6 1352.2,431.7 1353.8,430.5 1355.4,426.6 1357.0,425.2 1358.5,423.9 1360.0,423.8 1361.2,423.0 1362.5,424.7 1363.8,423.4 1365.4,425.0 1367.0,424.5 1368.5,424.2 1370.0,422.1 1371.5,424.3 1373.0,425.0 1374.6,426.8 1376.2,427.0 1377.5,428.5 1378.8,427.9 1380.0,429.0 1381.2,428.5 1382.5,430.5 1383.8,429.7 1385.0,431.1 1386.2,429.2 1387.5,430.7 1388.8,429.8 1390.0,431.5 1391.2,431.1 1392.5,431.7 1393.8,430.2 1395.0,431.5 1396.2,430.3 1397.5,432.4 1398.8,431.0 1400.0,433.1 1401.2,433.6 1402.9,435.8 1404.5,436.0 1406.2,437.3 1408.0,437.0 1408.8,437.7"/>
<polyline points="1411.7,438.5 1412.5,438.2 1413.8,440.7 1415.0,439.4 1416.2,441.7 1417.5,439.9 1418.8,441.2 1420.0,439.5 1421.4,440.6 1422.8,438.3 1424.2,438.3 1425.9,437.9 1427.5,439.0 1428.8,437.7 1430.0,439.6 1431.2,438.2 1432.9,442.0 1434.5,443.4 1436.0,445.6 1437.5,445.9 1438.8,447.3 1440.0,446.7 1441.2,447.7 1442.5,445.4 1443.8,445.5 1445.0,446.9 1446.2,450.6 1447.5,449.4 1448.8,451.4 1450.0,450.8 1451.2,452.6 1452.5,450.6 1453.8,452.4 1455.0,451.4 1456.2,453.2 1457.5,452.1 1459.1,453.6 1460.8,452.9 1462.2,455.1 1463.8,454.7 1465.0,455.9 1466.2,455.2 1467.5,456.3 1468.8,455.9 1470.0,457.6 1471.2,457.2 1472.5,457.7 1473.8,455.6 1475.0,456.7 1476.2,456.1 1477.5,458.1 1478.8,457.2 1480.0,459.0 1481.2,458.0 1482.5,460.0 1483.8,459.7 1485.0,461.7 1486.2,461.2 1487.5,462.1 1488.8,460.1 1490.0,461.5 1491.2,458.6 1492.5,458.5 1493.8,455.7 1495.4,455.5 1497.0,452.4 1498.8,443.0 1500.5,417.3 1502.0,401.3 1503.8,402.4 1505.5,415.4 1507.5,418.5 1508.8,421.5 1510.0,422.4 1511.2,423.7 1512.5,423.5 1513.8,421.1 1515.0,417.0 1516.2,417.0 1517.5,414.8 1519.0,416.1 1520.5,414.6 1522.1,416.6 1523.8,415.8 1525.4,416.7 1527.0,415.3 1528.5,417.0 1530.0,417.1 1531.2,414.4 1532.5,409.5 1533.5,406.8 1535.0,406.8"/>
</g>
<g class="s-blue">
<circle cx="215.0" cy="346.2" r="4"/>
<circle cx="251.6" cy="360.0" r="4"/>
<circle cx="288.3" cy="355.0" r="4"/>
<circle cx="324.9" cy="348.2" r="4"/>
<circle cx="361.5" cy="314.5" r="4"/>
<circle cx="398.1" cy="255.0" r="4"/>
<circle cx="434.8" cy="213.8" r="4"/>
<circle cx="471.4" cy="250.8" r="4"/>
<circle cx="508.0" cy="221.2" r="4"/>
<circle cx="544.7" cy="213.8" r="4"/>
<circle cx="581.3" cy="221.2" r="4"/>
<circle cx="617.9" cy="295.0" r="4"/>
<circle cx="654.6" cy="297.5" r="4"/>
<circle cx="691.2" cy="360.0" r="4"/>
<circle cx="727.8" cy="358.9" r="4"/>
<circle cx="764.5" cy="382.5" r="4"/>
<circle cx="801.1" cy="336.8" r="4"/>
<circle cx="837.7" cy="395.0" r="4"/>
<circle cx="874.3" cy="410.0" r="4"/>
<circle cx="911.0" cy="411.8" r="4"/>
<circle cx="947.6" cy="380.6" r="4"/>
<circle cx="984.2" cy="321.8" r="4"/>
<circle cx="1020.9" cy="360.0" r="4"/>
<circle cx="1057.5" cy="238.8" r="4"/>
<circle cx="1094.1" cy="220.5" r="4"/>
<circle cx="1130.8" cy="218.8" r="4"/>
<circle cx="1167.4" cy="282.0" r="4"/>
<circle cx="1204.0" cy="278.8" r="4"/>
<circle cx="1240.6" cy="260.0" r="4"/>
<circle cx="1277.3" cy="356.2" r="4"/>
<circle cx="1313.9" cy="328.8" r="4"/>
<circle cx="1350.5" cy="344.5" r="4"/>
<circle cx="1387.2" cy="352.5" r="4"/>
<circle cx="1423.8" cy="331.2" r="4"/>
<circle cx="1460.4" cy="388.8" r="4"/>
<circle cx="1497.1" cy="415.0" r="4"/>
<circle cx="1533.7" cy="212.0" r="4"/>
<circle cx="1535.1" cy="228.4" r="4"/>
</g>
<g class="s-yellow">
<circle cx="215.0" cy="345.5" r="4"/>
<circle cx="251.6" cy="314.5" r="4"/>
<circle cx="288.3" cy="358.8" r="4"/>
<circle cx="324.9" cy="337.5" r="4"/>
<circle cx="361.5" cy="328.8" r="4"/>
<circle cx="398.1" cy="312.0" r="4"/>
<circle cx="434.8" cy="315.0" r="4"/>
<circle cx="471.4" cy="326.8" r="4"/>
<circle cx="508.0" cy="314.2" r="4"/>
<circle cx="544.7" cy="320.5" r="4"/>
<circle cx="581.3" cy="341.8" r="4"/>
<circle cx="617.9" cy="369.9" r="4"/>
<circle cx="654.6" cy="390.5" r="4"/>
<circle cx="691.2" cy="389.4" r="4"/>
<circle cx="727.8" cy="357.8" r="4"/>
<circle cx="764.5" cy="359.7" r="4"/>
<circle cx="801.1" cy="384.1" r="4"/>
<circle cx="837.7" cy="396.3" r="4"/>
<circle cx="874.3" cy="388.9" r="4"/>
<circle cx="911.0" cy="386.6" r="4"/>
<circle cx="947.6" cy="385.0" r="4"/>
<circle cx="984.2" cy="387.0" r="4"/>
<circle cx="1020.9" cy="403.2" r="4"/>
<circle cx="1057.5" cy="391.0" r="4"/>
<circle cx="1094.1" cy="404.5" r="4"/>
<circle cx="1130.8" cy="412.5" r="4"/>
<circle cx="1167.4" cy="428.8" r="4"/>
<circle cx="1204.0" cy="431.2" r="4"/>
<circle cx="1240.6" cy="440.0" r="4"/>
<circle cx="1277.3" cy="477.0" r="4"/>
<circle cx="1313.9" cy="438.0" r="4"/>
<circle cx="1350.5" cy="444.0" r="4"/>
<circle cx="1387.2" cy="439.5" r="4"/>
<circle cx="1423.8" cy="447.5" r="4"/>
<circle cx="1460.4" cy="463.8" r="4"/>
<circle cx="1497.1" cy="463.0" r="4"/>
<circle cx="1533.7" cy="414.9" r="4"/>
<circle cx="1535.1" cy="415.5" r="4"/>
</g>
<g class="s-cyan">
<circle cx="215.0" cy="345.5" r="4"/>
<circle cx="251.6" cy="320.0" r="4"/>
<circle cx="288.3" cy="360.0" r="4"/>
<circle cx="324.9" cy="349.2" r="4"/>
<circle cx="361.5" cy="343.8" r="4"/>
<circle cx="398.1" cy="354.5" r="4"/>
<circle cx="434.8" cy="372.5" r="4"/>
<circle cx="471.4" cy="370.5" r="4"/>
<circle cx="508.0" cy="369.5" r="4"/>
<circle cx="544.7" cy="370.0" r="4"/>
<circle cx="581.3" cy="380.8" r="4"/>
<circle cx="617.9" cy="412.5" r="4"/>
<circle cx="654.6" cy="423.8" r="4"/>
<circle cx="691.2" cy="431.2" r="4"/>
<circle cx="727.8" cy="402.5" r="4"/>
<circle cx="764.5" cy="419.5" r="4"/>
<circle cx="801.1" cy="438.8" r="4"/>
<circle cx="837.7" cy="460.0" r="4"/>
<circle cx="874.3" cy="436.2" r="4"/>
<circle cx="911.0" cy="432.0" r="4"/>
<circle cx="947.6" cy="428.8" r="4"/>
<circle cx="984.2" cy="426.8" r="4"/>
<circle cx="1020.9" cy="433.2" r="4"/>
<circle cx="1057.5" cy="438.8" r="4"/>
<circle cx="1094.1" cy="433.0" r="4"/>
<circle cx="1130.8" cy="444.5" r="4"/>
<circle cx="1167.4" cy="460.0" r="4"/>
<circle cx="1204.0" cy="466.2" r="4"/>
<circle cx="1240.6" cy="475.5" r="4"/>
<circle cx="1277.3" cy="493.0" r="4"/>
<circle cx="1313.9" cy="463.8" r="4"/>
<circle cx="1350.5" cy="466.2" r="4"/>
<circle cx="1387.2" cy="462.5" r="4"/>
<circle cx="1423.8" cy="472.0" r="4"/>
<circle cx="1460.4" cy="480.0" r="4"/>
<circle cx="1497.1" cy="476.8" r="4"/>
<circle cx="1533.7" cy="422.5" r="4"/>
<circle cx="1535.1" cy="426.2" r="4"/>
</g>
<g class="s-grey">
<circle cx="215.0" cy="345.5" r="4"/>
<circle cx="251.6" cy="323.2" r="4"/>
<circle cx="288.3" cy="357.5" r="4"/>
<circle cx="324.9" cy="341.2" r="4"/>
<circle cx="361.5" cy="333.8" r="4"/>
<circle cx="398.1" cy="322.0" r="4"/>
<circle cx="434.8" cy="325.0" r="4"/>
<circle cx="471.4" cy="330.5" r="4"/>
<circle cx="508.0" cy="320.5" r="4"/>
<circle cx="544.7" cy="327.0" r="4"/>
<circle cx="581.3" cy="344.2" r="4"/>
<circle cx="617.9" cy="368.0" r="4"/>
<circle cx="654.6" cy="387.5" r="4"/>
<circle cx="691.2" cy="386.2" r="4"/>
<circle cx="727.8" cy="354.5" r="4"/>
<circle cx="764.5" cy="356.2" r="4"/>
<circle cx="801.1" cy="380.0" r="4"/>
<circle cx="837.7" cy="391.2" r="4"/>
<circle cx="874.3" cy="383.8" r="4"/>
<circle cx="911.0" cy="381.2" r="4"/>
<circle cx="947.6" cy="379.5" r="4"/>
<circle cx="984.2" cy="381.2" r="4"/>
<circle cx="1020.9" cy="397.0" r="4"/>
<circle cx="1057.5" cy="389.5" r="4"/>
<circle cx="1094.1" cy="397.5" r="4"/>
<circle cx="1130.8" cy="407.5" r="4"/>
<circle cx="1167.4" cy="422.5" r="4"/>
<circle cx="1204.0" cy="423.8" r="4"/>
<circle cx="1240.6" cy="432.5" r="4"/>
<circle cx="1277.3" cy="467.5" r="4"/>
<circle cx="1313.9" cy="430.0" r="4"/>
<circle cx="1350.5" cy="435.5" r="4"/>
<circle cx="1387.2" cy="430.5" r="4"/>
<circle cx="1423.8" cy="438.2" r="4"/>
<circle cx="1460.4" cy="453.0" r="4"/>
<circle cx="1497.1" cy="452.5" r="4"/>
<circle cx="1533.7" cy="406.2" r="4"/>
<circle cx="1535.1" cy="406.8" r="4"/>
</g>
</g>
<g class="legend">
<g class="s-blue"><line x1="412" y1="738" x2="462" y2="738"/><circle cx="437" cy="737.5" r="11"/></g>
<text x="472" y="744.5">东方区域发展混合</text>
<g class="s-yellow"><line x1="685" y1="738" x2="735" y2="738"/><circle cx="710" cy="737.5" r="11"/></g>
<text x="745" y="744.5">同类平均</text>
<g class="s-cyan"><line x1="862" y1="738" x2="912" y2="738"/><circle cx="887" cy="737.5" r="11"/></g>
<text x="922" y="744.5">沪深<tspan font-size="25.5">300</tspan></text>
<g class="s-grey"><line x1="1033" y1="738" x2="1083" y2="738"/><circle cx="1058" cy="737.5" r="11"/></g>
<text x="1093" y="744.5">灵活混基</text>
</g>
<text class="footer" x="800.6" y="796.3">制图数据来自恒生聚源数据库</text>
</svg>
</body>
</html>
